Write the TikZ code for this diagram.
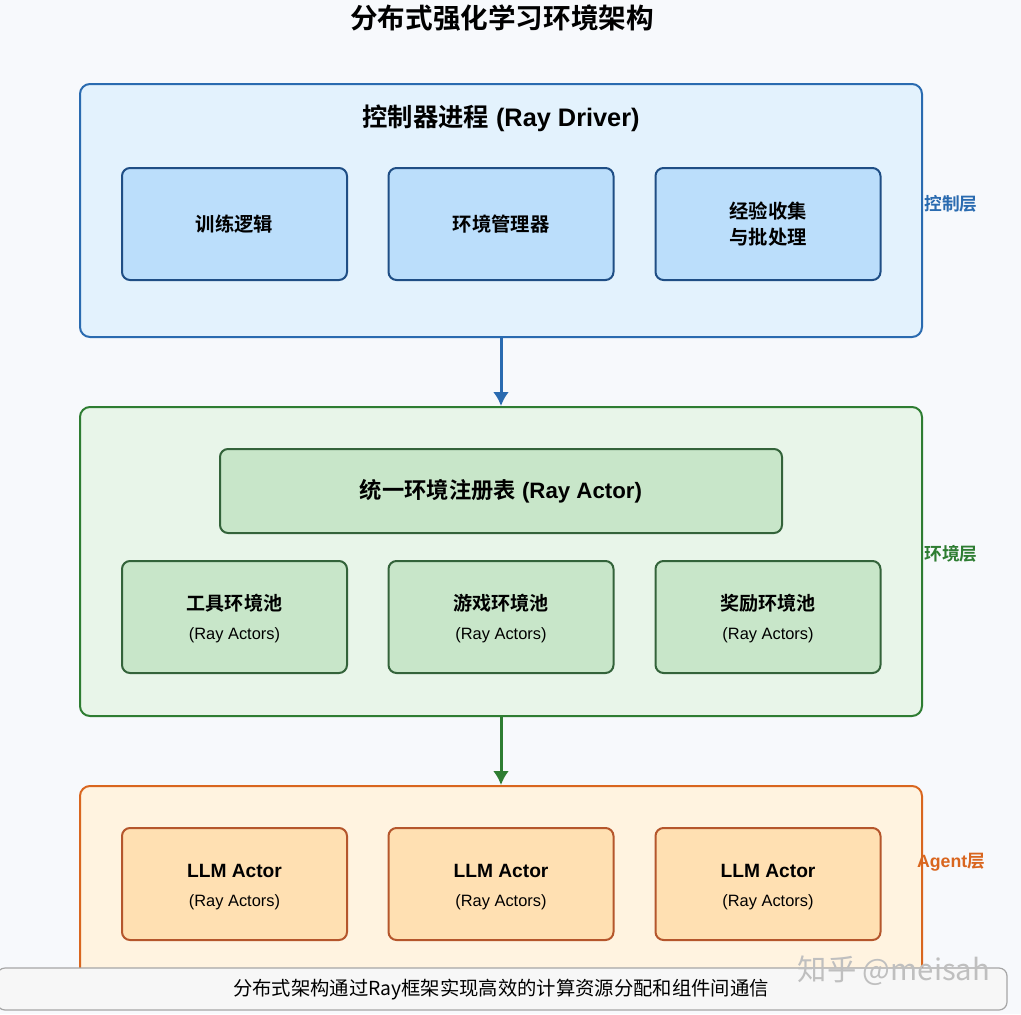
\documentclass[tikz,border=0pt]{standalone}
\usepackage{fontspec}
\setmainfont{Liberation Sans}
\newfontfamily\cjk{Noto Sans CJK SC}[BoldFont={Noto Sans CJK SC Bold}]
\usetikzlibrary{arrows,arrows.meta,calc}
\tikzset{>=latex}
\definecolor{bgcol}{HTML}{F7F9FC}
\definecolor{ctrlbg}{HTML}{E3F2FD}
\definecolor{ctrlline}{HTML}{2A6BB0}
\definecolor{ctrlfill}{HTML}{BBDEFB}
\definecolor{ctrldraw}{HTML}{1F4E85}
\definecolor{envbg}{HTML}{E8F5E9}
\definecolor{envline}{HTML}{2E7D32}
\definecolor{envfill}{HTML}{C8E6C9}
\definecolor{envdraw}{HTML}{33633A}
\definecolor{agentbg}{HTML}{FFF3E0}
\definecolor{agentline}{HTML}{D9661F}
\definecolor{agentfill}{HTML}{FFE0B2}
\definecolor{agentdraw}{HTML}{B5562C}
\tikzstyle{layer}=[rectangle,line width=1.5pt,rounded corners=7.5pt,minimum width=631.5pt]
\tikzstyle{subbox}=[rectangle,line width=1.5pt,minimum height=84pt,minimum width=168.75pt,rounded corners=6pt,align=center]
\tikzstyle{ctrlbox}=[subbox,draw=ctrldraw,fill=ctrlfill,font=\fontsize{14.5pt}{20pt}\selectfont\cjk\bfseries]
\tikzstyle{envbox}=[subbox,draw=envdraw,fill=envfill,font=\fontsize{14.3pt}{21.75pt}\selectfont]
\tikzstyle{agentbox}=[subbox,draw=agentdraw,fill=agentfill,font=\fontsize{14.4pt}{21.75pt}\selectfont]
\tikzstyle{lbl}=[font=\fontsize{13.3pt}{16pt}\selectfont\bfseries]
\tikzstyle{flow}=[-{Latex[length=10.5pt,width=12pt]},line width=2.25pt]
\newcommand{\rayactors}{{\fontsize{12.3pt}{21.75pt}\selectfont (Ray Actors)}}

\begin{document}
\begin{tikzpicture}[x=0.75pt,y=-0.75pt,inner sep=0pt]
	\def \colA {234.5};
	\def \colB {501};
	\def \colC {768};

	\fill[bgcol] (0,0) rectangle (1021,1014);
	\useasboundingbox (0,0) rectangle (1021,1014);

	\node[font=\fontsize{20.7pt}{24pt}\selectfont\cjk\bfseries] (title) at (502,18) {分布式强化学习环境架构};

	% control layer
	\node[layer,draw=ctrlline,fill=ctrlbg,minimum height=189.75pt] (ctrl) at (501,210.5) {};
	\node[font=\fontsize{19pt}{22pt}\selectfont\bfseries] (ctrltitle) at (501,118) {{\cjk 控制器进程} (Ray Driver)};
	\node[ctrlbox] (train) at (\colA,224) {训练逻辑};
	\node[ctrlbox] (envmgr) at (\colB,224) {环境管理器};
	\node[ctrlbox] (collect) at (\colC,224) {经验收集\\与批处理};
	\node[lbl,text=ctrlline] (ctrllbl) at (951,204) {\cjk 控制层};

	% environment layer
	\node[layer,draw=envline,fill=envbg,minimum height=231.75pt] (env) at (501,561.5) {};
	\node[rectangle,draw=envdraw,fill=envfill,line width=1.5pt,rounded corners=6pt,minimum width=421.5pt,minimum height=63pt,font=\fontsize{16.7pt}{20pt}\selectfont\bfseries] (registry) at (501,491) {{\cjk 统一环境注册表} (Ray Actor)};
	\node[envbox] (toolpool) at (\colA,617) {};
	\node[envbox] (gamepool) at (\colB,617) {};
	\node[envbox] (rewardpool) at (\colC,617) {};
	\node[font=\fontsize{14.3pt}{21.75pt}\selectfont,align=center] (tooltext) at (\colA,619) {{\cjk\bfseries 工具环境池}\\\rayactors};
	\node[font=\fontsize{14.3pt}{21.75pt}\selectfont,align=center] (gametext) at (\colB,619) {{\cjk\bfseries 游戏环境池}\\\rayactors};
	\node[font=\fontsize{14.3pt}{21.75pt}\selectfont,align=center] (rewardtext) at (\colC,619) {{\cjk\bfseries 奖励环境池}\\\rayactors};
	\node[lbl,text=envline] (envlbl) at (951,554) {\cjk 环境层};

	% agent layer
	\node[layer,draw=agentline,fill=agentbg,minimum height=162pt] (agent) at (501,894) {};
	\node[agentbox] (llmA) at (\colA,884) {};
	\node[agentbox] (llmB) at (\colB,884) {};
	\node[agentbox] (llmC) at (\colC,884) {};
	\node[font=\fontsize{14.4pt}{21.75pt}\selectfont,align=center] (llmtextA) at (\colA,887.5) {{\bfseries LLM Actor}\\\rayactors};
	\node[font=\fontsize{14.4pt}{21.75pt}\selectfont,align=center] (llmtextB) at (\colB,887.5) {{\bfseries LLM Actor}\\\rayactors};
	\node[font=\fontsize{14.4pt}{21.75pt}\selectfont,align=center] (llmtextC) at (\colC,887.5) {{\bfseries LLM Actor}\\\rayactors};
	\node[lbl,text=agentline] (agentlbl) at (951,862) {Agent{\cjk 层}};

	\draw[flow,draw=ctrlline,fill=ctrlline] (ctrl.south) -- (env.north);
	\draw[flow,draw=envline,fill=envline] (env.south) -- (agent.north);

	% caption
	\node[rectangle,draw=black!35,fill=black!3,line width=0.9pt,rounded corners=6pt,minimum width=757.5pt,minimum height=31.5pt] (caption) at (502,989) {};
	\node[font=\fontsize{14.5pt}{18pt}\selectfont\cjk] (captext) at (501,990) {分布式架构通过Ray框架实现高效的计算资源分配和组件间通信};
	\node[font=\fontsize{22pt}{26pt}\selectfont\cjk,text=black!25] (mark) at (894,971) {知乎 @meisah};
\end{tikzpicture}
\end{document}
